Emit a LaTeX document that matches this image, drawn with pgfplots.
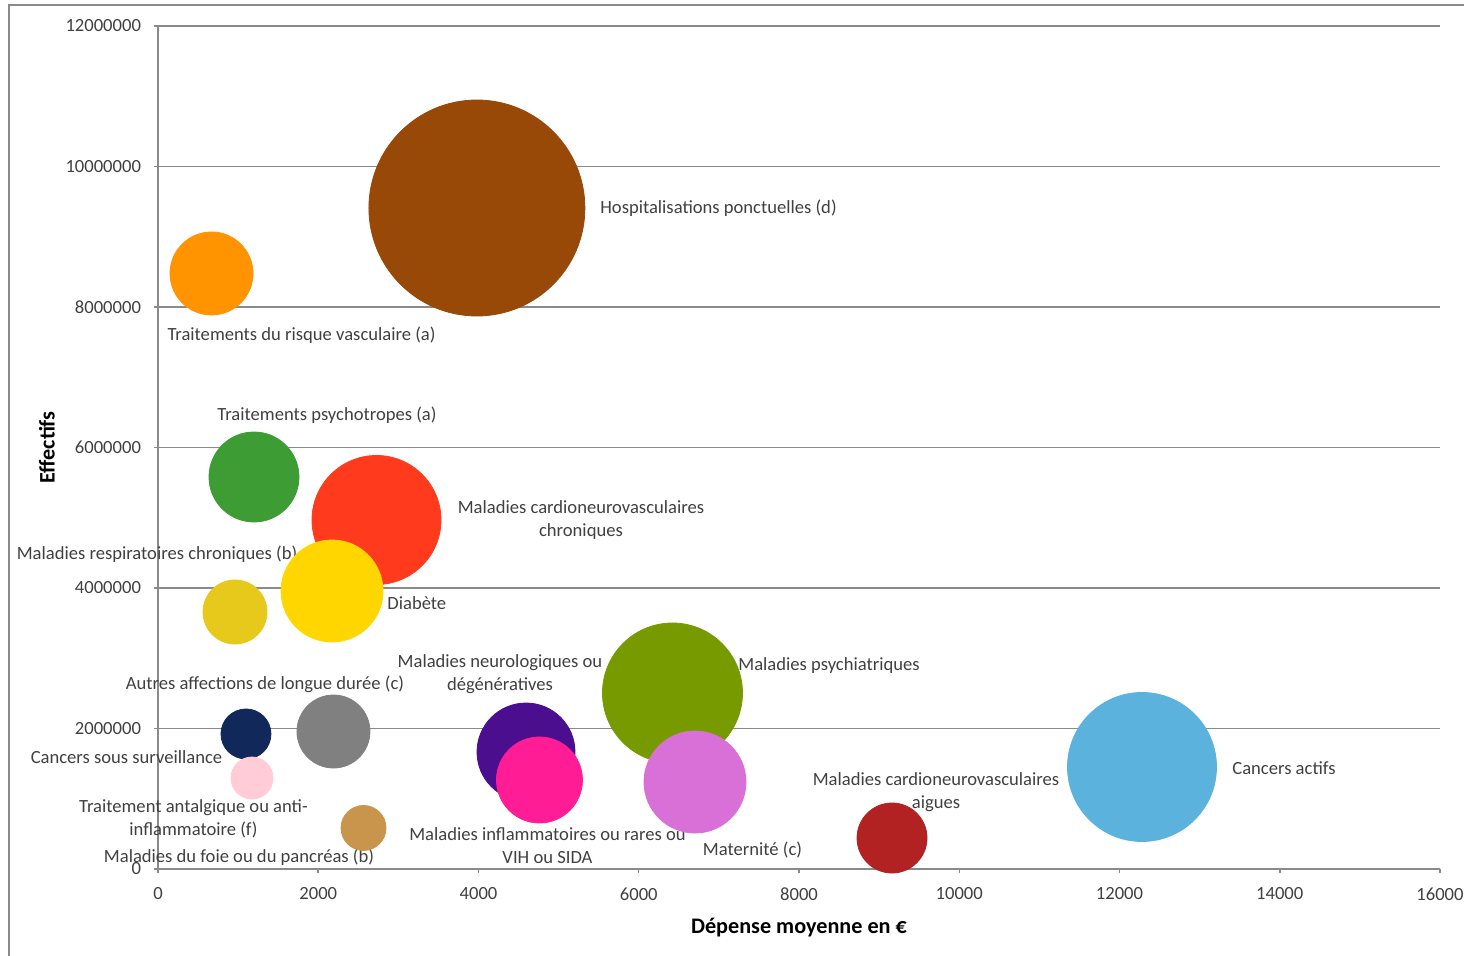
\documentclass[border=0pt]{standalone}
\usepackage{pgfplots}
\pgfplotsset{compat=1.18}
\usepackage{fontspec}
\setmainfont{Carlito}

\definecolor{txt}{HTML}{404040}
\definecolor{gridc}{HTML}{8A8A8A}
\definecolor{cHosp}{HTML}{984807}
\definecolor{cVasc}{HTML}{FF9300}
\definecolor{cPsyT}{HTML}{3E9C35}
\definecolor{cCnvC}{HTML}{FF3A1D}
\definecolor{cDiab}{HTML}{FFD600}
\definecolor{cResp}{HTML}{E6C91A}
\definecolor{cPsyM}{HTML}{779A00}
\definecolor{cAld}{HTML}{808080}
\definecolor{cCsurv}{HTML}{10295A}
\definecolor{cNeuro}{HTML}{4A0E8E}
\definecolor{cInfl}{HTML}{FF1C94}
\definecolor{cMat}{HTML}{D870D8}
\definecolor{cCact}{HTML}{5BB2DC}
\definecolor{cAnta}{HTML}{FFCCD8}
\definecolor{cFoie}{HTML}{C9944C}
\definecolor{cCnvA}{HTML}{B22222}

\tikzset{lbl/.style={font=\fontsize{9.3}{11.6}\selectfont, text=txt, inner sep=0pt, align=center}}

% one bubble: colour, radius (pt), x, y
\newcommand{\bubble}[4]{%
  \addplot[only marks, mark=*, mark size=#2pt,
    mark options={fill=#1, draw=#1}] coordinates {(#3,#4)};}

\begin{document}
\begin{tikzpicture}
\begin{axis}[
    scale only axis,
    width=641pt, height=421.5pt,
    xmin=0, xmax=16000, ymin=0, ymax=12000000,
    xtick={0,2000,...,16000},
    ytick={0,2000000,...,12000000},
    scaled x ticks=false, scaled y ticks=false,
    /pgf/number format/.cd, fixed, 1000 sep={}, assume math mode=true, /pgfplots/.cd,
    axis x line*=bottom, axis y line*=left,
    axis line style={gridc, line width=0.75pt},
    ymajorgrids,
    grid style={gridc, line width=0.75pt},
    tick align=outside,
    major tick length=2pt,
    tick style={gridc, line width=0.75pt},
    ticklabel style={font=\fontsize{9.3}{11}\selectfont, text=txt},
    xticklabel style={yshift=-3.75pt},
    yticklabel style={xshift=-3pt},
    every axis x label/.style={at={(rel axis cs:0.5,-0.07)}, anchor=center},
    every axis y label/.style={at={(rel axis cs:-0.0866,0.5)}, rotate=90, anchor=center},
    label style={font=\fontsize{11.1}{13}\selectfont\bfseries, text=black},
    xlabel={Dépense moyenne en €},
    ylabel={Effectifs},
    clip=false,
]
\bubble{cHosp}{54}{3980}{9409000}
\bubble{cVasc}{20.75}{668}{8477000}
\bubble{cPsyT}{22.5}{1198}{5580000}
\bubble{cCnvC}{32.25}{2727}{4968000}
\bubble{cDiab}{25.5}{2172}{3957000}
\bubble{cResp}{16}{961}{3658000}
\bubble{cPsyM}{35}{6421}{2505000}
\bubble{cAld}{18.25}{2190}{1957000}
\bubble{cCsurv}{12.5}{1098}{1922000}
\bubble{cNeuro}{24.5}{4593}{1665000}
\bubble{cInfl}{21.5}{4761}{1267000}
\bubble{cMat}{25.5}{6702}{1238000}
\bubble{cCact}{37.25}{12281}{1452000}
\bubble{cAnta}{10.5}{1173}{1295000}
\bubble{cFoie}{11.25}{2565}{584000}
\bubble{cCnvA}{17.5}{9161}{441000}

\node[lbl, anchor=west] at (axis cs:5516,9409000) {Hospitalisations ponctuelles (d)};
\node[lbl] at (axis cs:1791,7600000) {Traitements du risque vasculaire (a)};
\node[lbl] at (axis cs:2109,6460000) {Traitements psychotropes (a)};
\node[lbl] at (axis cs:5279,4968000) {Maladies cardioneurovasculaires\\chroniques};
\node[lbl] at (axis cs:-12,4484000) {Maladies respiratoires chroniques (b)};
\node[lbl, anchor=west] at (axis cs:2858,3786000) {Diabète};
\node[lbl] at (axis cs:4268,2776000) {Maladies neurologiques ou\\dégénératives};
\node[lbl, anchor=west] at (axis cs:7239,2890000) {Maladies psychiatriques};
\node[lbl] at (axis cs:1335,2633000) {Autres affections de longue durée (c)};
\node[lbl] at (axis cs:-393,1594000) {Cancers sous surveillance};
\node[lbl, anchor=west] at (axis cs:13404,1438000) {Cancers actifs};
\node[lbl] at (axis cs:9710,1096000) {Maladies cardioneurovasculaires\\aigues};
\node[lbl] at (axis cs:443,712000) {Traitement antalgique ou anti-\\inflammatoire (f)};
\node[lbl] at (axis cs:4861,334000) {Maladies inflammatoires ou rares ou\\VIH ou SIDA};
\node[lbl] at (axis cs:7420,270000) {Maternité (c)};
\node[lbl] at (axis cs:1011,171000) {Maladies du foie ou du pancréas (b)};
\end{axis}
\draw[gridc, line width=0.6pt] (-74.5pt,-43.5pt) -- (-74.5pt,432pt) -- (653pt,432pt);
\pgfresetboundingbox
\useasboundingbox (-79pt,-43.5pt) rectangle (653pt,434.5pt);
\end{tikzpicture}
\end{document}
